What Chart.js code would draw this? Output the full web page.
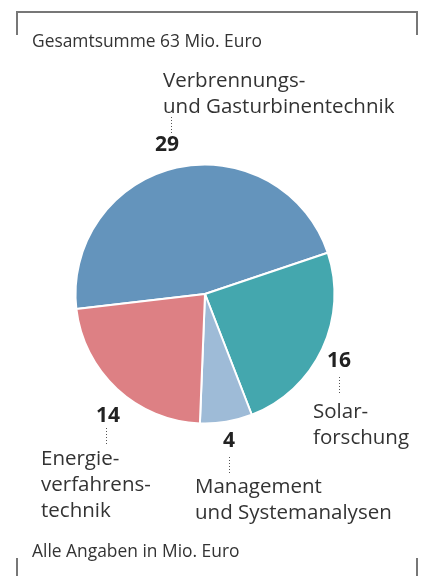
<!DOCTYPE html>
<html lang="de">
<head>
<meta charset="utf-8">
<script src="https://cdn.jsdelivr.net/npm/chart.js@4"></script>
<style>
  body { margin: 0; background: #fff; }
  #wrap { position: relative; width: 422px; height: 576px; font-family: "Open Sans", "Noto Sans", sans-serif; color: #333; }
  #chart { position: absolute; left: 0; top: 0; }
  .txt { position: absolute; white-space: nowrap; font-size: 20.5px; line-height: 26px; }
  .num { position: absolute; white-space: nowrap; font-size: 21px; line-height: 21px; font-weight: bold; color: #222; }
  .note { position: absolute; white-space: nowrap; font-size: 17.4px; line-height: 17px; color: #333; }
</style>
</head>
<body>
<div id="wrap">
  <canvas id="chart" width="422" height="576"></canvas>
</div>
<script>
// Daten
var kategorien = [
  ['Verbrennungs-', 'und Gasturbinentechnik'],
  ['Solar-', 'forschung'],
  ['Management', 'und Systemanalysen'],
  ['Energie-', 'verfahrens-', 'technik']
];
var anteile = [29.4, 15.3, 4.1, 14.2];      // Winkel, aus dem Bild gelesen
var angezeigt = [29, 16, 4, 14];            // beschriftete Werte
var farben = ['#6494bc', '#44a7ae', '#9ebbd7', '#dd8084'];
var titel = 'Gesamtsumme 63 Mio. Euro';
var fussnote = 'Alle Angaben in Mio. Euro';

// Lage der Beschriftungen (Zahl, Punktlinie, Text)
var lage = [
  { nx: 155, ny: 133.3, dx: 171, dy: [117, 133], tx: 163, ty: 65.6 },
  { nx: 327, ny: 349.3, dx: 339, dy: [377, 393], tx: 313, ty: 397.1 },
  { nx: 223, ny: 429.3, dx: 229, dy: [457, 473], tx: 195, ty: 472.1 },
  { nx: 96,  ny: 404.3, dx: 106, dy: [428, 444], tx: 41,  ty: 444.1 }
];

var wrap = document.getElementById('wrap');

function addText(cls, x, y, html) {
  var d = document.createElement('div');
  d.className = cls;
  d.style.left = x + 'px';
  d.style.top = y + 'px';
  d.innerHTML = html;
  wrap.appendChild(d);
}

addText('note', 32, 31.5, titel);
addText('note', 32, 541.5, fussnote);
kategorien.forEach(function(k, i) {
  addText('num', lage[i].nx, lage[i].ny, angezeigt[i]);
  addText('txt', lage[i].tx, lage[i].ty, k.join('<br>'));
});

// Rahmen und Punktlinien
var deko = {
  id: 'deko',
  afterDraw: function(chart) {
    var ctx = chart.ctx;
    ctx.save();
    ctx.strokeStyle = '#777';
    ctx.lineWidth = 2;
    ctx.beginPath();
    ctx.moveTo(17, 35); ctx.lineTo(17, 12); ctx.lineTo(417, 12); ctx.lineTo(417, 35);
    ctx.moveTo(17, 558); ctx.lineTo(17, 576);
    ctx.moveTo(417, 558); ctx.lineTo(417, 576);
    ctx.stroke();

    ctx.strokeStyle = '#555';
    ctx.lineWidth = 1;
    ctx.setLineDash([1, 2]);
    lage.forEach(function(l) {
      ctx.beginPath();
      ctx.moveTo(l.dx + 0.5, l.dy[0]);
      ctx.lineTo(l.dx + 0.5, l.dy[1]);
      ctx.stroke();
    });
    ctx.restore();
  }
};

new Chart(document.getElementById('chart'), {
  type: 'pie',
  data: {
    labels: kategorien.map(function(k) { return k.join(' '); }),
    datasets: [{
      data: anteile,
      backgroundColor: farben,
      borderColor: '#fff',
      borderWidth: 2
    }]
  },
  options: {
    responsive: false,
    animation: false,
    rotation: 263.4,
    layout: { padding: { left: 74.5, right: 86.5, top: 163.5, bottom: 151.5 } },
    plugins: {
      legend: { display: false },
      tooltip: { enabled: false }
    }
  },
  plugins: [deko]
});
</script>
</body>
</html>
